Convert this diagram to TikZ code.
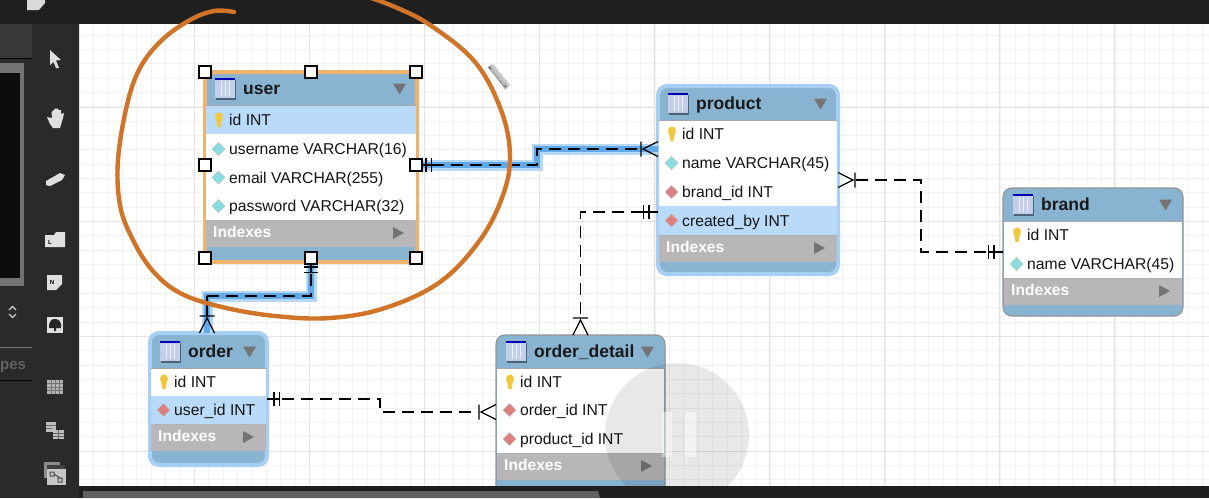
\documentclass[tikz,border=0pt]{standalone}
\usepackage{fontspec}
\setmainfont{Liberation Sans}
\definecolor{hdr}{HTML}{88B4D2}
\definecolor{idx}{HTML}{B8B6B9}
\definecolor{rowsel}{HTML}{B9DAF8}
\definecolor{halo}{HTML}{A6CFF3}
\definecolor{hlcore}{HTML}{62A9EA}
\definecolor{hllight}{HTML}{B6D8F6}
\definecolor{orangeink}{HTML}{CF7428}
\definecolor{selborder}{HTML}{F0B36E}
\definecolor{chrome}{HTML}{2A2A2A}
\definecolor{topbar}{HTML}{1F1F1F}
\definecolor{keycol}{HTML}{F0C73E}
\definecolor{teald}{HTML}{86DEDF}
\definecolor{redd}{HTML}{DC7F7F}
\definecolor{iconblue}{HTML}{C3CFEA}
\tikzset{
  tbl/.style={rectangle,rounded corners=9pt,fill=hdr,inner sep=0pt,outer sep=0pt,anchor=north west},
  plain/.style={draw=black!42,line width=1.2pt},
  active/.style={draw=halo,line width=4pt},
  picked/.style={rounded corners=1pt,draw=selborder,line width=4pt},
  rowtext/.style={inner sep=0pt,anchor=base west,font=\fontsize{15.7}{18}\selectfont,text=black!92},
  titletext/.style={inner sep=0pt,anchor=base west,font=\fontsize{17.5}{20}\selectfont\bfseries,text=black!90},
  idxtext/.style={inner sep=0pt,anchor=base west,font=\fontsize{15.6}{18}\selectfont\bfseries,text=white},
  rel/.style={draw=black,line width=1.3pt,dash pattern=on 12pt off 7pt},
  hlouter/.style={draw=hllight,line width=11pt},
  hlinner/.style={draw=hlcore,line width=6.5pt},
  mark line/.style={draw=black,line width=1.2pt},
  handle/.style={rectangle,draw=black,fill=white,line width=1.5pt,minimum size=12pt,inner sep=0pt},
  tool/.style={fill=white!88!black,draw=none},
}
\newcommand{\ertable}[9]{%
  \node[tbl,#9,minimum width={(#4-#2)*1pt},minimum height={(#5-#3)*1pt}] (#1) at (#2,#3) {};
  \fill[white] ({#2+1},#6) rectangle ({#4-1},#7);
  \fill[idx] ({#2+1},#7) rectangle ({#4-1},{#7+27});
  \draw[black!35,line width=.7pt] ({#2+1},#6) -- ({#4-1},#6);
  \draw[black!30,line width=.7pt] ({#2+1},#7) -- ({#4-1},#7);
  % table icon
  \fill[black!45!hdr] ({#2+11},{#6-25}) rectangle ({#2+30.5},{#6-5.5});
  \fill[iconblue] ({#2+10},{#6-27}) rectangle ({#2+29.5},{#6-7});
  \fill[blue!70!black] ({#2+10},{#6-27}) rectangle ({#2+29.5},{#6-25});
  \foreach \k in {16,20,24}{\draw[white!70!iconblue,line width=.9pt] ({#2+\k},{#6-24}) -- ({#2+\k},{#6-9});}
  \node[titletext] (#1-title) at ({#2+38},{#6-10.5}) {#8};
  \fill[black!55] ({#4-24},{#6-21.5}) -- ({#4-11},{#6-21.5}) -- ({#4-17.5},{#6-10.5}) -- cycle;
  \node[idxtext] (#1-idx) at ({#2+8},{#7+17.5}) {Indexes};
  \fill[black!55] ({#4-24},{#7+7}) -- ({#4-24},{#7+19}) -- ({#4-13},{#7+13}) -- cycle;
}
\newcommand{\rowsel}[3]{\fill[rowsel] ({#1+1},{#3-14.5}) rectangle ({#2-1},{#3+14});}
\newcommand{\keyrow}[4]{%
  \fill[keycol] ({#2+14},{#3-3}) ellipse (4pt and 4.6pt);
  \fill[keycol] ({#2+11},{#3-1}) -- ({#2+17},{#3-1}) -- ({#2+15.5},{#3+7}) -- ({#2+12.5},{#3+7}) -- cycle;
  \node[rowtext] (#1) at ({#2+24},{#3+5.5}) {#4};}
\newcommand{\attrrow}[5]{%
  \fill[#5,draw=black!25,line width=.6pt] ({#2+13.5},{#3-6.5}) -- ({#2+20},#3) -- ({#2+13.5},{#3+6.5}) -- ({#2+7},#3) -- cycle;
  \node[rowtext] (#1) at ({#2+24},{#3+5.5}) {#4};}
\newcommand{\onemark}[3]{\begin{scope}[shift={(#1)},rotate=#2]
  \draw[mark line] (0,0) -- ({#3+5},0) (#3,-7) -- (#3,7) ({#3+5.5},-7) -- ({#3+5.5},7);\end{scope}}
\newcommand{\crowmark}[2]{\begin{scope}[shift={(#1)},rotate=#2]
  \draw[mark line] (0,-7.5) -- (15,0) -- (0,7.5) (17,-7.5) -- (17,7.5);\end{scope}}
\begin{document}
\begin{tikzpicture}[x=1pt,y=-1pt]
\useasboundingbox (0,0) rectangle (1209,498);
\fill[white] (0,0) rectangle (1209,498);
% grid
\foreach \i in {0,...,80}{\draw[black!5,line width=.7pt] ({79+\i*14.4},24) -- ({79+\i*14.4},486);}
\foreach \i in {0,...,32}{\draw[black!5,line width=.7pt] (79,{20.5+\i*14.35}) -- (1209,{20.5+\i*14.35});}
\foreach \i in {0,...,10}{\draw[black!11,line width=.9pt] ({79+\i*115},24) -- ({79+\i*115},486);}
\foreach \j in {107,221,336,451}{\draw[black!11,line width=.9pt] (79,\j) -- (1209,\j);}
% chrome
\fill[chrome] (0,24) rectangle (79,498);
\fill[topbar] (0,0) rectangle (1209,24);
\fill[black!78] (0,24) rectangle (32,58);
\draw[black,line width=1pt] (0,58) -- (32,58);
\fill[black!55] (0,63) rectangle (24,286);
\fill[black!95] (0,73) rectangle (20,278);
\draw[black!55,line width=.8pt] (0,347) -- (32,347);
\draw[black,line width=.8pt] (0,380) -- (32,380);
\node[inner sep=0pt,anchor=base west,text=black!62,font=\fontsize{15}{18}\selectfont\bfseries] (sidetext) at (0,369) {pes};
\draw[white!80!black,line width=1.1pt] (9,310) -- (12.5,306.5) -- (16,310) (9,314) -- (12.5,317.5) -- (16,314);
% toolbar icons
\fill[white!85!black] (27,0) -- (45,0) -- (45,3) -- (39,10) -- (27,10) -- cycle;
\fill[tool] (50,50) -- (61,60) -- (56,60.5) -- (59,68) -- (56,68) -- (53.5,62) -- (50,65) -- cycle;
\fill[tool] (47,117) -- (50,124) -- (53,128) -- (60,128) -- (63,118) -- (64,113) -- (61,114) -- (61,110) -- (58.5,110) -- (58,108.5) -- (55,108.5) -- (54,110) -- (51.5,112) -- (52,118) -- cycle;
\fill[tool] (46,181) -- (60,173) -- (65,175) -- (62,180) -- (50,186) -- (46,185) -- cycle;
\fill[tool] (45,235) -- (54,235) -- (56,232) -- (65,232) -- (65,247) -- (45,247) -- cycle;
\node[inner sep=0pt,text=black,font=\fontsize{6}{6}\selectfont\bfseries] (toolL) at (50,242) {L};
\fill[tool] (47,275) -- (62,275) -- (62,284) -- (56,290) -- (47,290) -- cycle;
\node[inner sep=0pt,text=black,font=\fontsize{6}{6}\selectfont\bfseries] (toolN) at (52,282) {N};
\fill[tool] (47,317) rectangle (63,333);
\fill[black!85] (49,328) .. controls (49,320) and (52,319) .. (55,319) .. controls (59,319) and (62,322) .. (61,328) -- (56,328) -- (56,331) -- (54,331) -- (54,328) -- cycle;
\fill[black!30] (47,380) rectangle (63,394);
\foreach \u in {383.5,387,390.5}{\draw[black!55,line width=.7pt] (47,\u) -- (63,\u);}
\foreach \u in {51,55,59}{\draw[black!55,line width=.7pt] (\u,380) -- (\u,394);}
\fill[black!25] (46,422) rectangle (56,432);
\fill[black!25] (53,430) rectangle (64,439);
\draw[black!60,line width=.6pt] (46,425) -- (56,425) (46,428) -- (52,428) (53,433) -- (64,433) (53,436) -- (64,436) (58.5,430) -- (58.5,439);
\fill[black!45] (44,462) rectangle (60,478);
\fill[black!75] (47,465) rectangle (65,481);
\fill[black!22] (47,469) rectangle (66,485);
\draw[black!70,line width=1pt] (50,472) rectangle (54,476) (58,478) rectangle (62,482) (54,474) -- (60,478);
% tables
\ertable{user}{205}{72}{417}{262}{105}{220}{user}{picked}
\ertable{product}{658}{86}{838}{274}{120}{235}{product}{active}
\ertable{brand}{1003}{188}{1183}{316}{221}{278}{brand}{plain}
\ertable{order}{150}{333}{267}{465}{368}{424}{order}{active}
\ertable{orderdetail}{496}{335}{665}{495}{368}{453}{order\_detail}{plain}
\rowsel{205}{417}{120}
\rowsel{658}{838}{220.5}
\rowsel{150}{267}{410}
\keyrow{user-r1}{205}{120}{id INT}
\attrrow{user-r2}{205}{149}{username VARCHAR(16)}{teald}
\attrrow{user-r3}{205}{177.5}{email VARCHAR(255)}{teald}
\attrrow{user-r4}{205}{206}{password VARCHAR(32)}{teald}
\keyrow{product-r1}{658}{134}{id INT}
\attrrow{product-r2}{658}{163}{name VARCHAR(45)}{teald}
\attrrow{product-r3}{658}{192}{brand\_id INT}{redd}
\attrrow{product-r4}{658}{220.5}{created\_by INT}{redd}
\keyrow{brand-r1}{1003}{235}{id INT}
\attrrow{brand-r2}{1003}{264}{name VARCHAR(45)}{teald}
\keyrow{order-r1}{150}{382}{id INT}
\attrrow{order-r2}{150}{410}{user\_id INT}{redd}
\keyrow{orderdetail-r1}{496}{382}{id INT}
\attrrow{orderdetail-r2}{496}{410}{order\_id INT}{redd}
\attrrow{orderdetail-r3}{496}{439}{product\_id INT}{redd}
% ports
\coordinate (userP) at ([yshift=2pt]user.east);
\coordinate (productU) at ([yshift=31pt]product.west);
\coordinate (productD) at ([yshift=-32pt]product.west);
\coordinate (orderU) at ([xshift=-1.5pt]order.north);
\coordinate (detailO) at ([yshift=3pt]orderdetail.west);
\coordinate (userDown) at ([yshift=-34pt]user.south);
\coordinate (uoBend) at (orderU |- userDown);
% connectors
\draw[hlouter] (userP) -- ++(120,0) |- (productU);
\draw[hlinner] (userP) -- ++(120,0) |- (productU);
\draw[hlouter] (user.south) -- (userDown) -- (uoBend) -- (orderU);
\draw[hlinner] (user.south) -- (userDown) -- (uoBend) -- (orderU);
\draw[rel,shorten <=15pt,shorten >=18pt] (userP) -- ++(120,0) |- (productU);
\draw[rel,shorten <=12pt] (user.south) -- (userDown) -- (uoBend);
\draw[mark line] (uoBend) -- ([yshift=17pt]orderU);
\draw[rel,shorten <=15pt,shorten >=18pt] (productD) -| (orderdetail.north);
\draw[rel,shorten <=18pt,shorten >=15pt] (product.east) -- ++(83,0) |- (brand.west);
\draw[rel,shorten <=15pt,shorten >=18pt] (order.east) -- ++(113,0) |- (detailO);
\onemark{userP}{0}{9}
\crowmark{productU}{180}
\onemark{user.south}{-90}{5}
\crowmark{orderU}{90}
\onemark{productD}{180}{9}
\crowmark{orderdetail.north}{90}
\crowmark{product.east}{0}
\onemark{brand.west}{180}{9}
\onemark{order.east}{0}{7}
\crowmark{detailO}{180}
% pause watermark
\begin{scope}
\clip (79,24) rectangle (1209,486);
\fill[black,opacity=.09] (677,435) circle (72pt);
\fill[white,opacity=.45] (662,412) rectangle (672,457);
\fill[white,opacity=.45] (685,412) rectangle (696,457);
\end{scope}
% bottom bar
\fill[topbar] (79,486) rectangle (1209,498);
\fill[black!62] (83,491) -- (598,491) -- (600,498) -- (83,498) -- cycle;
% selection handles
\foreach \hx/\hy/\hn in {205/72/a,311/72/b,416/72/c,205/165/d,416/165/e,205/258/f,311/258/g,416/258/h}{
  \node[handle] (handle\hn) at (\hx,\hy) {};}
% pencil cursor
\fill[black!22] (488,66) -- (493,64) -- (510,85) -- (505,90) -- cycle;
\draw[black!60,line width=2pt] (489,67) -- (506,87);
\draw[white!85!black,line width=1pt] (491,69) -- (505,85.5);
% hand-drawn circle
\draw[orangeink,line width=4.4pt,line cap=round,line join=round] plot[smooth,tension=.62] coordinates {
 (234,12) (214,11) (190,20) (162,40) (140,68) (127,105) (118,160) (120,205) (132,238) (152,270) (180,293) (222,307) (275,316) (330,318) (385,308) (440,282) (480,240) (503,195) (510,155) (501,110) (475,62) (430,25) (395,7) (368,-3)};
\end{tikzpicture}
\end{document}
